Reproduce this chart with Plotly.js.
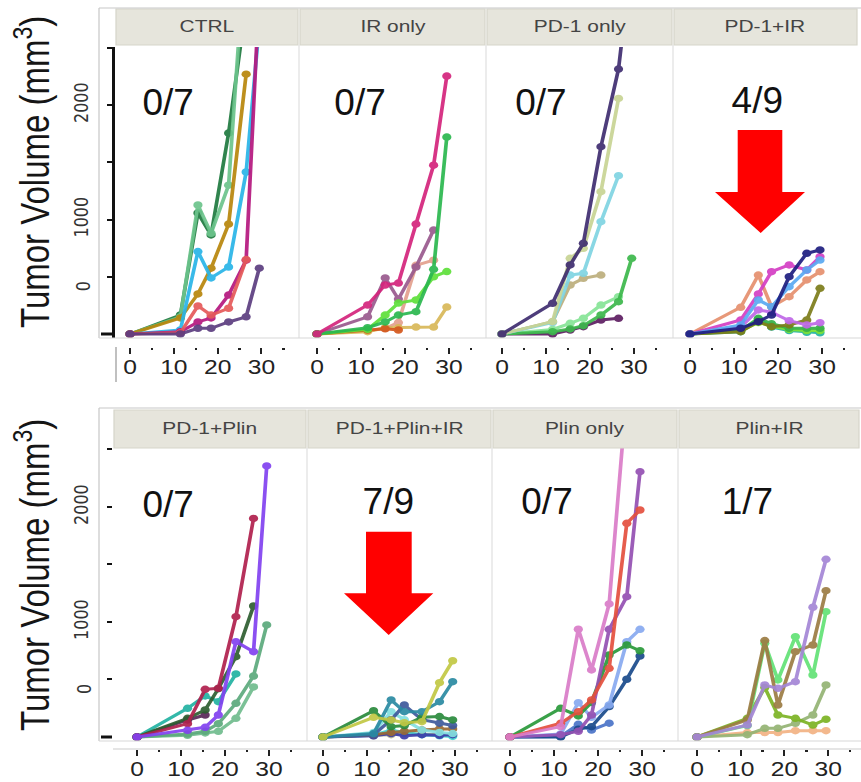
<!DOCTYPE html>
<html><head><meta charset="utf-8">
<script src="https://cdn.plot.ly/plotly-3.0.1.min.js"></script>
<style>
html,body{margin:0;padding:0;background:#fff;overflow:hidden;}
#chart{width:700px;height:782px;transform:scaleX(1.23);transform-origin:0 0;}
</style></head><body><div id="chart"></div>
<script>
// ---------------- DATA ----------------
const days = [0, 11.5, 15.5, 18.5, 22.5, 26.5, 29.5];
const panelNames = ["CTRL", "IR only", "PD-1 only", "PD-1+IR", "PD-1+Plin", "PD-1+Plin+IR", "Plin only", "Plin+IR"];
const responseLabels = ["0/7", "0/7", "0/7", "4/9", "0/7", "7/9", "0/7", "1/7"];
const xTickVals = [0, 10, 20, 30];
const xMinorVals = [5, 15, 25, 35];
const yTickVals = [1000, 2000];
const yMinorVals = [0, 500, 1500, 2500];
const yZeroLabelValue = 420;
const yTitle = "Tumor Volume (mm<sup>3</sup>)";

const ctrl = [
  [0, 166, 1057, 865, 1755, 2880, null],
  [0, 150, 1127, 880, 1300, 3500, null],
  [0, 140, 350, 575, 960, 2270, null],
  [0, 35, 720, 490, 585, 1415, 2700],
  [0, 20, 105, 140, 340, 645, 3000],
  [0, 10, 245, 165, 225, 650, null],
  [0, 0, 50, 50, 105, 150, 575]
];
const irOnly = [
  [0, 30, 50, 100, 600, 645, null],
  [0, 20, 55, 55, 60, 60, 235],
  [0, 35, 45, 35, null, null, null],
  [0, 150, 490, 305, 585, 908, null],
  [0, 40, 165, 270, 297, 500, 545],
  [0, 55, 105, 165, 195, 565, 1720],
  [0, 253, 428, 445, 960, 1475, 2253]
];
const pd1Only = [
  [0, 0, 35, 64, 122, 137, null],
  [0, 40, 93, 137, 253, 326, null],
  [0, 20, 44, 73, 166, 282, 661],
  [0, 108, 428, 486, 515, null, null],
  [0, 100, 515, 530, 981, 1383, null],
  [0, 108, 661, 748, 1243, 2058, null],
  [0, 268, 603, 792, 1636, 2314, 3300]
];
const pd1IR = [
  [0, 20, 130, 60, 30, 15, 10],
  [0, 25, 100, 70, 40, 30, 30],
  [0, 30, 137, 90, 50, 50, 50],
  [0, 20, 108, 64, 79, 122, 399],
  [0, 60, 210, 190, 116, 79, 99],
  [0, 233, 515, 238, 326, 472, 544],
  [0, 122, 350, 544, 603, 559, 675],
  [0, 79, 297, 238, 413, 559, 646],
  [0, 50, 108, 166, 501, 705, 734]
];
const pd1Plin = [
  [0, 14, 35, 49, 162, 435, null],
  [0, 26, 49, 116, 293, 530, 974],
  [0, 148, 191, null, null, null, null],
  [0, 249, 357, 307, 548, null, null],
  [0, 162, 235, 420, 698, 1139, null],
  [0, 116, 414, 423, 1046, 1901, null],
  [0, 58, 84, 191, 829, 742, 2357]
];
const pd1PlinIR = [
  [0, 10, 20, 30, 25, 20, 15],
  [0, 15, 60, 40, 20, 10, 5],
  [0, 10, 30, 10, 20, 15, 20],
  [0, 20, 40, 50, 61, 70, 70],
  [0, 40, 220, 150, 60, 40, 30],
  [0, 20, 150, 278, 150, 120, 100],
  [0, 229, 90, 100, 171, 177, 148],
  [0, 30, 322, 220, 220, 307, 481],
  [0, 171, 148, 124, 133, 472, 663]
];
const plinOnly = [
  [0, 5, 110, 60, 120, null, null],
  [0, 0, 67, 90, 264, 502, 704],
  [0, 26, 298, 171, 278, 829, 936],
  [0, 249, 183, 300, 713, 800, 750],
  [0, 20, 50, 191, 936, 1220, 2307],
  [0, 119, 220, 322, 597, 1858, 1974],
  [0, 90, 937, 583, 1157, 3000, null]
];
const plinIR = [
  [0, null, null, null, null, null, null],
  [0, 38, 38, 38, 55, 55, 55],
  [0, 20, 75, 75, 119, 191, 452],
  [0, 162, 430, 191, 162, 104, 154],
  [0, 100, 815, 496, 872, 539, 1090],
  [0, 148, 838, 278, 742, 800, 1272],
  [0, 104, 452, 423, 481, 1128, 1545]
];

// ---------------- STYLE ----------------
const ctrlColors = ["#1f7a3f", "#6cc48c", "#b8860b", "#29b5e8", "#b5177e", "#e55a5a", "#5c3d80"];
const irOnlyColors = ["#e3a08e", "#d8b858", "#d4581e", "#9a5a8e", "#5ee03a", "#2bb84f", "#d4247c"];
const pd1OnlyColors = ["#5e1e62", "#86e496", "#3cb84c", "#bcae7c", "#80d4e2", "#c8d494", "#3f2d70"];
const pd1IRColors = ["#22b4a0", "#7ee234", "#36b048", "#7c7c1a", "#c068e8", "#e6906e", "#d43ec4", "#5aaaf2", "#1e1e80"];
const pd1PlinColors = ["#70bc8e", "#5caa7c", "#5a2858", "#22b2a2", "#2e5e30", "#b0204e", "#8242f0"];
const pd1PlinIRColors = ["#b8b890", "#44d4d4", "#3c3ca8", "#9a6a34", "#84e0e0", "#3e5a9c", "#2a8a3c", "#2a8aa2", "#c2c844"];
const plinOnlyColors = ["#4a74c8", "#1a4a8c", "#88aaf0", "#2a9a3a", "#9450b2", "#e4503e", "#da7cc8"];
const plinIRColors = ["#1e3a5c", "#f2b284", "#94b474", "#7cb424", "#62e276", "#9c7c44", "#a486d6"];

const panelData = [ctrl, irOnly, pd1Only, pd1IR, pd1Plin, pd1PlinIR, plinOnly, plinIR];
const panelColors = [ctrlColors, irOnlyColors, pd1OnlyColors, pd1IRColors, pd1PlinColors, pd1PlinIRColors, plinOnlyColors, plinIRColors];

// geometry in reference pixels (861 x 782); the page is stretched horizontally by 1.23
const RW = 861, RH = 782, STRETCH = 1.23;
const fx = px => px / RW;
const fy = py => 1 - py / RH;
const colEdges = [[115, 299, 486, 673, 858], [113, 307, 492, 678, 860]];
const rowPlotY = [[47, 338], [448, 741]];
const rowStripY = [[9, 45], [410, 448]];
const rowYRange = [[-35, 2507], [-35, 2513]];
const rowXAxisPos = [347, 749];
const xRanges = [[-3.42, 38.56], [-4.09, 38.41], [-3.64, 38.89], [-3.86, 38.12],
                 [-5.46, 38.66], [-3.64, 38.44], [-4.08, 38.12], [-4.34, 37.27]];
const labelPos = [[168, 103], [360, 103], [541, 103], [757, 101], [168, 505], [388, 501], [547, 501], [747, 501]];

const traces = [];
const layout = {
  width: 700, height: 782, autosize: false,
  margin: {l: 0, r: 0, t: 0, b: 0},
  paper_bgcolor: "#ffffff", plot_bgcolor: "rgba(0,0,0,0)",
  showlegend: false,
  shapes: [], annotations: []
};
const unstretchIdx = [];

for (let i = 0; i < 8; i++) {
  const row = i < 4 ? 0 : 1, col = i % 4;
  const sfx = i === 0 ? "" : String(i + 1);
  const edges = colEdges[row];
  layout["xaxis" + sfx] = {
    domain: [fx(edges[col]), fx(edges[col + 1])],
    range: xRanges[i], anchor: "free", position: fy(rowXAxisPos[row]),
    showgrid: false, zeroline: false, showline: false,
    tickmode: "array", tickvals: xTickVals, ticktext: xTickVals.map(String),
    ticks: "outside", ticklen: 6, tickwidth: 1.6, tickcolor: "#222",
    ticklabelstandoff: -4,
    tickfont: {family: "Liberation Sans, Arial, sans-serif", size: 20, color: "#222"},
    minor: {tickmode: "array", tickvals: xMinorVals, ticks: "outside", ticklen: 2, tickwidth: 2, tickcolor: "#222"},
    fixedrange: true
  };
  const ya = {
    domain: [fy(rowPlotY[row][1]), fy(rowPlotY[row][0])],
    range: rowYRange[row], anchor: "x" + sfx,
    showgrid: false, zeroline: false, fixedrange: true
  };
  if (col === 0) {
    Object.assign(ya, {
      tickmode: "array", tickvals: yTickVals, ticktext: yTickVals.map(String),
      ticks: "outside", ticklen: 4, tickwidth: 2, tickcolor: "#111",
      minor: {tickmode: "array", tickvals: yMinorVals, ticks: "outside", ticklen: 4, tickwidth: 2, tickcolor: "#111"},
      tickangle: -90, ticklabelstandoff: 9,
      tickfont: {family: "DejaVu Sans, sans-serif", size: 16, color: "#333"},
      showline: row === 0, linecolor: "#111", linewidth: 2.5
    });
  } else {
    ya.visible = false;
  }
  layout["yaxis" + sfx] = ya;

  panelData[i].forEach((vals, j) => {
    traces.push({
      type: "scatter", mode: "lines+markers",
      x: days, y: vals, xaxis: "x" + sfx, yaxis: "y" + sfx,
      line: {color: panelColors[i][j], width: 3},
      marker: {color: panelColors[i][j], size: 7.5},
      opacity: 0.92, hoverinfo: "skip"
    });
  });

  // strip header
  layout.shapes.push({type: "rect", xref: "paper", yref: "paper",
    x0: fx(edges[col] + 1), x1: fx(edges[col + 1] - 1), y0: fy(rowStripY[row][1]), y1: fy(rowStripY[row][0]),
    fillcolor: "#e6e5dc", line: {color: "#d6d5ca", width: 1}});
  layout.annotations.push({xref: "paper", yref: "paper",
    x: fx((edges[col] + edges[col + 1]) / 2), y: fy((rowStripY[row][0] + rowStripY[row][1]) / 2),
    text: panelNames[i], showarrow: false, xanchor: "center", yanchor: "middle",
    font: {family: "Liberation Sans, Arial, sans-serif", size: 17, color: "#444"}});
  // response fraction
  unstretchIdx.push(layout.annotations.length);
  layout.annotations.push({xref: "paper", yref: "paper",
    x: fx(labelPos[i][0]), y: fy(labelPos[i][1]),
    text: responseLabels[i], showarrow: false, xanchor: "center", yanchor: "middle",
    font: {family: "Liberation Sans, Arial, sans-serif", size: 37, color: "#111"}});
  // panel divider
  if (col > 0) {
    layout.shapes.push({type: "line", xref: "paper", yref: "paper",
      x0: fx(edges[col]), x1: fx(edges[col]), y0: fy(rowPlotY[row][1]), y1: fy(rowStripY[row][1]),
      line: {color: "#e0e0e0", width: 1}});
  }
}

// frames
[[8, 338], [408, 741]].forEach(([t, b]) => {
  layout.shapes.push({type: "line", xref: "paper", yref: "paper", x0: fx(99), x1: fx(861), y0: fy(t), y1: fy(t), line: {color: "#c8c8c8", width: 1}});
  layout.shapes.push({type: "line", xref: "paper", yref: "paper", x0: fx(99), x1: fx(99), y0: fy(t), y1: fy(b), line: {color: "#c8c8c8", width: 1}});
  layout.shapes.push({type: "line", xref: "paper", yref: "paper", x0: fx(99), x1: fx(861), y0: fy(b), y1: fy(b), line: {color: "#d8d8d8", width: 1}});
});
// x-axis area borders
layout.shapes.push({type: "line", xref: "paper", yref: "paper", x0: fx(116), x1: fx(116), y0: fy(347), y1: fy(382), line: {color: "#999", width: 1}});
layout.shapes.push({type: "line", xref: "paper", yref: "paper", x0: fx(113), x1: fx(861), y0: fy(749), y1: fy(749), line: {color: "#cccccc", width: 1}});
// thick zero ticks
[[334, 114], [737, 112]].forEach(([py, ax]) => {
  layout.shapes.push({type: "line", xref: "paper", yref: "paper", x0: fx(101), x1: fx(ax), y0: fy(py), y1: fy(py), line: {color: "#111", width: 3}});
});

// y titles and the "0" labels
[["y", 172], ["y5", 575]].forEach(([yr, cy]) => {
  layout.annotations.push({xref: "paper", yref: "paper", x: fx(32), y: fy(cy), text: yTitle, textangle: -90,
    showarrow: false, xanchor: "center", yanchor: "middle",
    font: {family: "Liberation Sans, Arial, sans-serif", size: 33, color: "#151515"}});
  layout.annotations.push({xref: "paper", yref: yr, x: fx(84), y: yZeroLabelValue, text: "0", textangle: -90,
    showarrow: false, xanchor: "center", yanchor: "middle",
    font: {family: "DejaVu Sans, sans-serif", size: 16, color: "#333"}});
});

// red arrows
function arrowPath(rx0, rx1, ry0, ry1, hx0, hx1, tipx, tipy) {
  const P = (x, y) => fx(x).toFixed(5) + "," + fy(y).toFixed(5);
  return "M" + P(rx0, ry0) + " L" + P(rx1, ry0) + " L" + P(rx1, ry1) + " L" + P(hx1, ry1) +
         " L" + P(tipx, tipy) + " L" + P(hx0, ry1) + " L" + P(rx0, ry1) + " Z";
}
layout.shapes.push({type: "path", xref: "paper", yref: "paper",
  path: arrowPath(737.7, 782.3, 130, 192, 715, 805, 760.7, 233), fillcolor: "#ff0000", line: {width: 0}});
layout.shapes.push({type: "path", xref: "paper", yref: "paper",
  path: arrowPath(366, 411.7, 531.7, 593.3, 344, 433.3, 388.7, 635), fillcolor: "#ff0000", line: {width: 0}});

Plotly.newPlot("chart", traces, layout, {staticPlot: true, displayModeBar: false, responsive: false}).then(gd => {
  // the response fractions in the reference are not stretched: undo the page stretch for them
  gd.querySelectorAll("g.annotation").forEach(a => {
    const idx = +a.getAttribute("data-index");
    if (unstretchIdx.indexOf(idx) >= 0) {
      const t = a.querySelector("text.annotation-text");
      if (t) {
        t.style.transformBox = "fill-box";
        t.style.transformOrigin = "center";
        t.style.transform = "scaleX(" + (1 / STRETCH).toFixed(4) + ")";
      }
    }
  });
});
</script></body></html>
